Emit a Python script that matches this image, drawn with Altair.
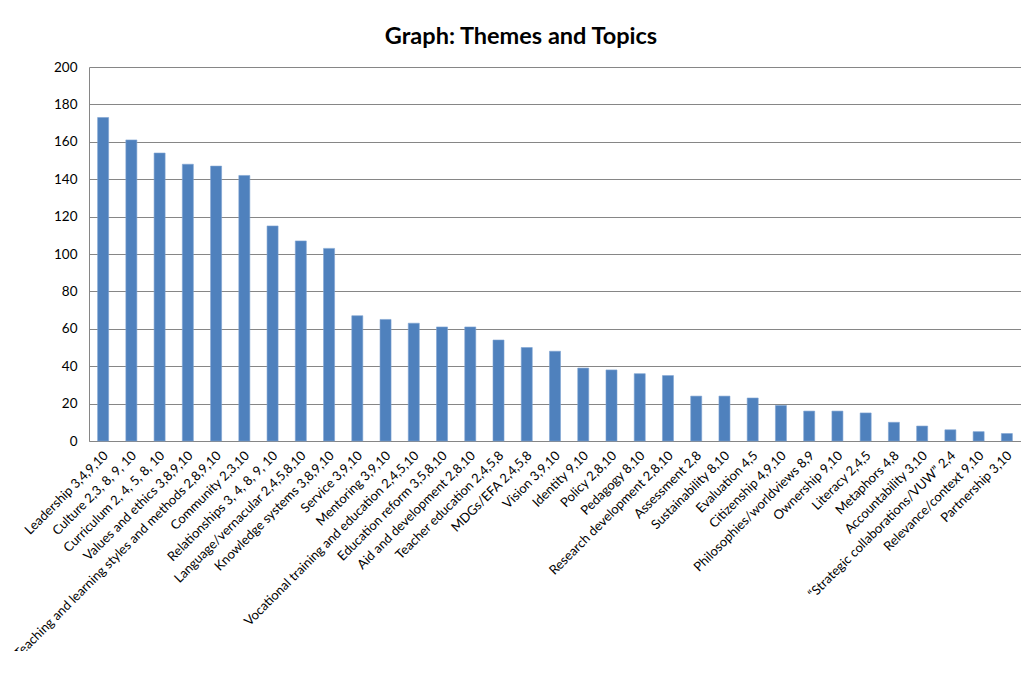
import altair as alt
import pandas as pd

themes = [
    "Leadership 3,4,9,10",
    "Culture  2,3, 8, 9, 10",
    "Curriculum  2, 4, 5, 8, 10",
    "Values and ethics  3,8,9,10",
    "Teaching and learning styles and methods  2,8,9,10",
    "Community  2,3,10",
    "Relationships  3, 4, 8, 9, 10",
    "Language/vernacular 2,4,5,8,10",
    "Knowledge systems  3,8,9,10",
    "Service  3,9,10",
    "Mentoring  3,9,10",
    "Vocational training and education  2,4,5,10",
    "Education reform  3,5,8,10",
    "Aid and development  2,8,10",
    "Teacher education  2,4,5,8",
    "MDGs/EFA  2,4,5,8",
    "Vision 3,9,10",
    "Identity  9,10",
    "Policy 2,8,10",
    "Pedagogy 8,10",
    "Research development  2,8,10",
    "Assessment  2,8",
    "Sustainability 8,10",
    "Evaluation  4,5",
    "Citizenship 4,9,10",
    "Philosophies/worldviews 8,9",
    "Ownership 9,10",
    "Literacy  2,4,5",
    "Metaphors  4,8",
    "Accountability  3,10",
    "\u201cStrategic collaborations/VUW\u201d 2,4",
    "Relevance/context 9,10",
    "Partnership  3,10",
]
counts = [173, 161, 154, 148, 147, 142, 115, 107, 103, 67, 65, 63, 61, 61, 54,
          50, 48, 39, 38, 36, 35, 24, 24, 23, 19, 16, 16, 15, 10, 8, 6, 5, 4]
y_ticks = [0, 20, 40, 60, 80, 100, 120, 140, 160, 180, 200]

df = pd.DataFrame({"theme": themes, "count": counts})

FONT = "Lato"

chart = alt.Chart(df).mark_bar(
    color="#4F81BD", stroke="#7EA3D2", strokeWidth=0.6
).encode(
    x=alt.X(
        "theme:N",
        sort=themes,
        title=None,
        scale=alt.Scale(paddingInner=0.61, paddingOuter=0.305),
        axis=alt.Axis(
            labelAngle=-45,
            labelAlign="right",
            labelBaseline="middle",
            labelPadding=12,
            labelOffset=3,
            ticks=False,
            domainColor="#868686",
            labelFont=FONT,
            labelFontSize=13,
            labelColor="#000000",
            labelLimit=400,
            labelOverlap=False,
        ),
    ),
    y=alt.Y(
        "count:Q",
        title=None,
        scale=alt.Scale(domain=[0, 200], nice=False),
        axis=alt.Axis(
            values=y_ticks,
            ticks=False,
            labelPadding=12,
            grid=True,
            gridColor="#868686",
            gridWidth=1,
            domainColor="#868686",
            labelFont=FONT,
            labelFontSize=13.5,
            labelColor="#000000",
        ),
    ),
).properties(
    width=932,
    height=374,
    title=alt.TitleParams(
        "Graph: Themes and Topics",
        font=FONT,
        fontSize=23.5,
        fontWeight="bold",
        color="#000000",
        anchor="middle",
        dx=-34,
        offset=12,
    ),
    autosize=alt.AutoSizeParams(type="none"),
    padding={"left": 81, "top": 59, "right": 0, "bottom": 210},
).configure_view(stroke=None)

chart.save("out.html", embed_options={"renderer": "svg", "actions": False})
